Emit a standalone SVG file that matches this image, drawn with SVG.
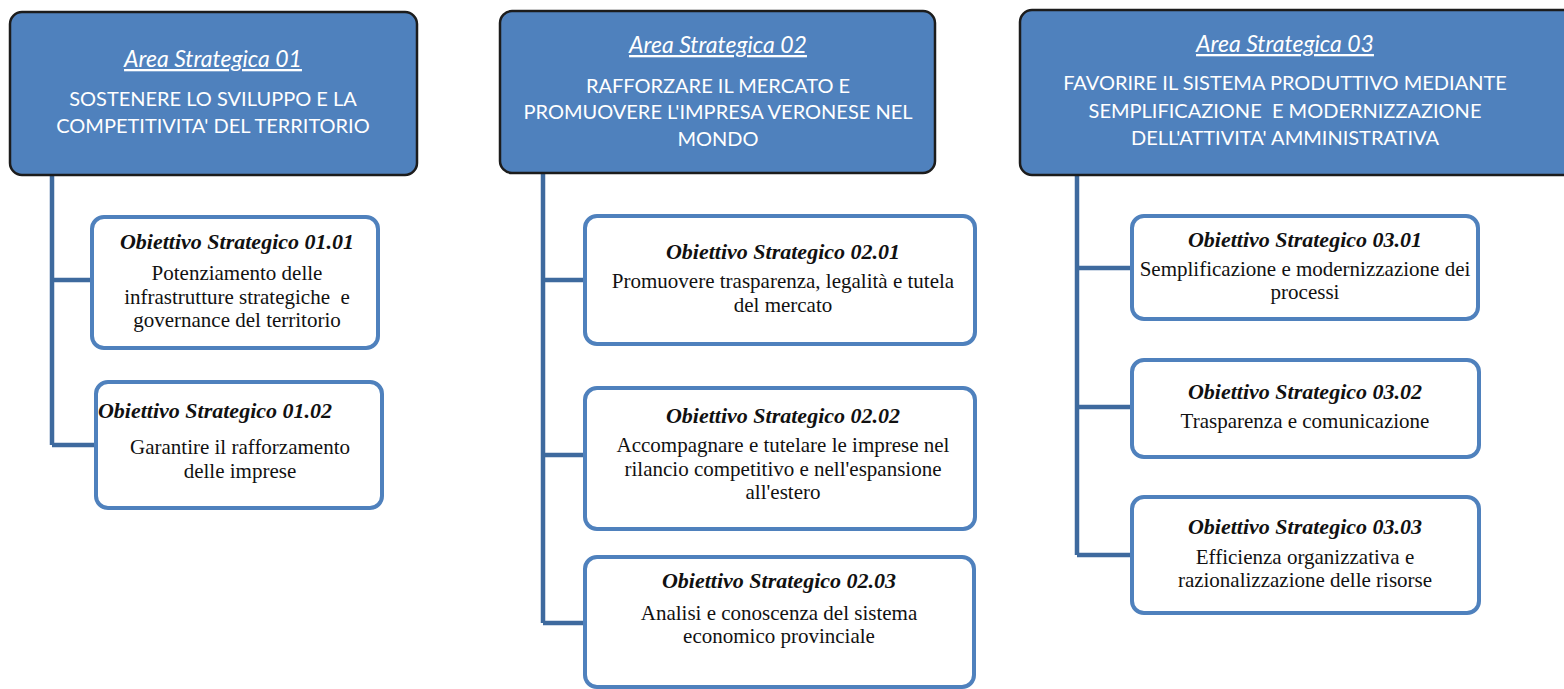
<svg xmlns="http://www.w3.org/2000/svg" width="1564" height="689" viewBox="0 0 1564 689">
<style>
.hdr{fill:#4f81bd;stroke:#1c1c1c;stroke-width:2.5}
.box{fill:#ffffff;stroke:#4f81bd;stroke-width:4}
.conn{fill:none;stroke:#3e6a9e;stroke-width:4.5}
.ht{font-family:Lato,"Open Sans",sans-serif;font-size:20px;fill:#ffffff;text-anchor:middle}
.ha{font-style:italic;text-decoration:underline;font-size:23px}
.bt{font-family:"Liberation Serif",serif;font-size:21px;fill:#111111;text-anchor:middle}
.bh{font-weight:bold;font-style:italic;font-size:22px}
</style>
<rect width="1564" height="689" fill="#ffffff"/>
<g id="connectors">
<path class="conn" d="M52 175 V445 M52 280 H92 M52 445 H96"/>
<path class="conn" d="M543 173 V623 M543 280 H585 M543 455 H585 M543 623 H585"/>
<path class="conn" d="M1077 175 V555 M1077 268 H1132 M1077 407 H1132 M1077 555 H1132"/>
</g>
<g id="area01">
<rect class="hdr" x="10" y="12" width="407" height="163" rx="12"/>
<text class="ht ha" x="213" y="67">Area Strategica 01</text>
<text class="ht" x="213" y="106">SOSTENERE LO SVILUPPO E LA</text>
<text class="ht" x="213" y="133">COMPETITIVITA' DEL TERRITORIO</text>
</g>
<g id="area02">
<rect class="hdr" x="500" y="11" width="435" height="162" rx="12"/>
<text class="ht ha" x="718" y="53">Area Strategica 02</text>
<text class="ht" x="718" y="93">RAFFORZARE IL MERCATO E</text>
<text class="ht" x="718" y="119">PROMUOVERE L'IMPRESA VERONESE NEL</text>
<text class="ht" x="718" y="146">MONDO</text>
</g>
<g id="area03">
<rect class="hdr" x="1020" y="10" width="560" height="165" rx="12"/>
<text class="ht ha" x="1285" y="52">Area Strategica 03</text>
<text class="ht" x="1285" y="90">FAVORIRE IL SISTEMA PRODUTTIVO MEDIANTE</text>
<text class="ht" x="1285" y="118" xml:space="preserve">SEMPLIFICAZIONE  E MODERNIZZAZIONE</text>
<text class="ht" x="1285" y="145">DELL'ATTIVITA' AMMINISTRATIVA</text>
</g>
<g id="obj0101">
<rect class="box" x="92" y="217" width="286" height="131" rx="12"/>
<text class="bt bh" x="237" y="249">Obiettivo Strategico 01.01</text>
<text class="bt" x="237" y="280">Potenziamento delle</text>
<text class="bt" x="237" y="304" xml:space="preserve">infrastrutture strategiche  e</text>
<text class="bt" x="237" y="327">governance del territorio</text>
</g>
<g id="obj0102">
<rect class="box" x="96" y="382" width="286" height="126" rx="12"/>
<text class="bt bh" x="215" y="418">Obiettivo Strategico 01.02</text>
<text class="bt" x="240" y="454">Garantire il rafforzamento</text>
<text class="bt" x="240" y="478">delle imprese</text>
</g>
<g id="obj0201">
<rect class="box" x="585" y="216" width="390" height="128" rx="12"/>
<text class="bt bh" x="783" y="259">Obiettivo Strategico 02.01</text>
<text class="bt" x="783" y="288">Promuovere trasparenza, legalità e tutela</text>
<text class="bt" x="783" y="312">del mercato</text>
</g>
<g id="obj0202">
<rect class="box" x="585" y="388" width="390" height="141" rx="12"/>
<text class="bt bh" x="783" y="423">Obiettivo Strategico 02.02</text>
<text class="bt" x="783" y="452">Accompagnare e tutelare le imprese nel</text>
<text class="bt" x="783" y="476">rilancio competitivo e nell'espansione</text>
<text class="bt" x="783" y="499">all'estero</text>
</g>
<g id="obj0203">
<rect class="box" x="585" y="557" width="389" height="130" rx="12"/>
<text class="bt bh" x="779" y="588">Obiettivo Strategico 02.03</text>
<text class="bt" x="779" y="620">Analisi e conoscenza del sistema</text>
<text class="bt" x="779" y="643">economico provinciale</text>
</g>
<g id="obj0301">
<rect class="box" x="1132" y="216" width="346" height="103" rx="12"/>
<text class="bt bh" x="1305" y="247">Obiettivo Strategico 03.01</text>
<text class="bt" x="1305" y="276">Semplificazione e modernizzazione dei</text>
<text class="bt" x="1305" y="299">processi</text>
</g>
<g id="obj0302">
<rect class="box" x="1132" y="360" width="347" height="97" rx="12"/>
<text class="bt bh" x="1305" y="399">Obiettivo Strategico 03.02</text>
<text class="bt" x="1305" y="428">Trasparenza e comunicazione</text>
</g>
<g id="obj0303">
<rect class="box" x="1132" y="497" width="347" height="116" rx="12"/>
<text class="bt bh" x="1305" y="534">Obiettivo Strategico 03.03</text>
<text class="bt" x="1305" y="564">Efficienza organizzativa e</text>
<text class="bt" x="1305" y="587">razionalizzazione delle risorse</text>
</g>
</svg>
